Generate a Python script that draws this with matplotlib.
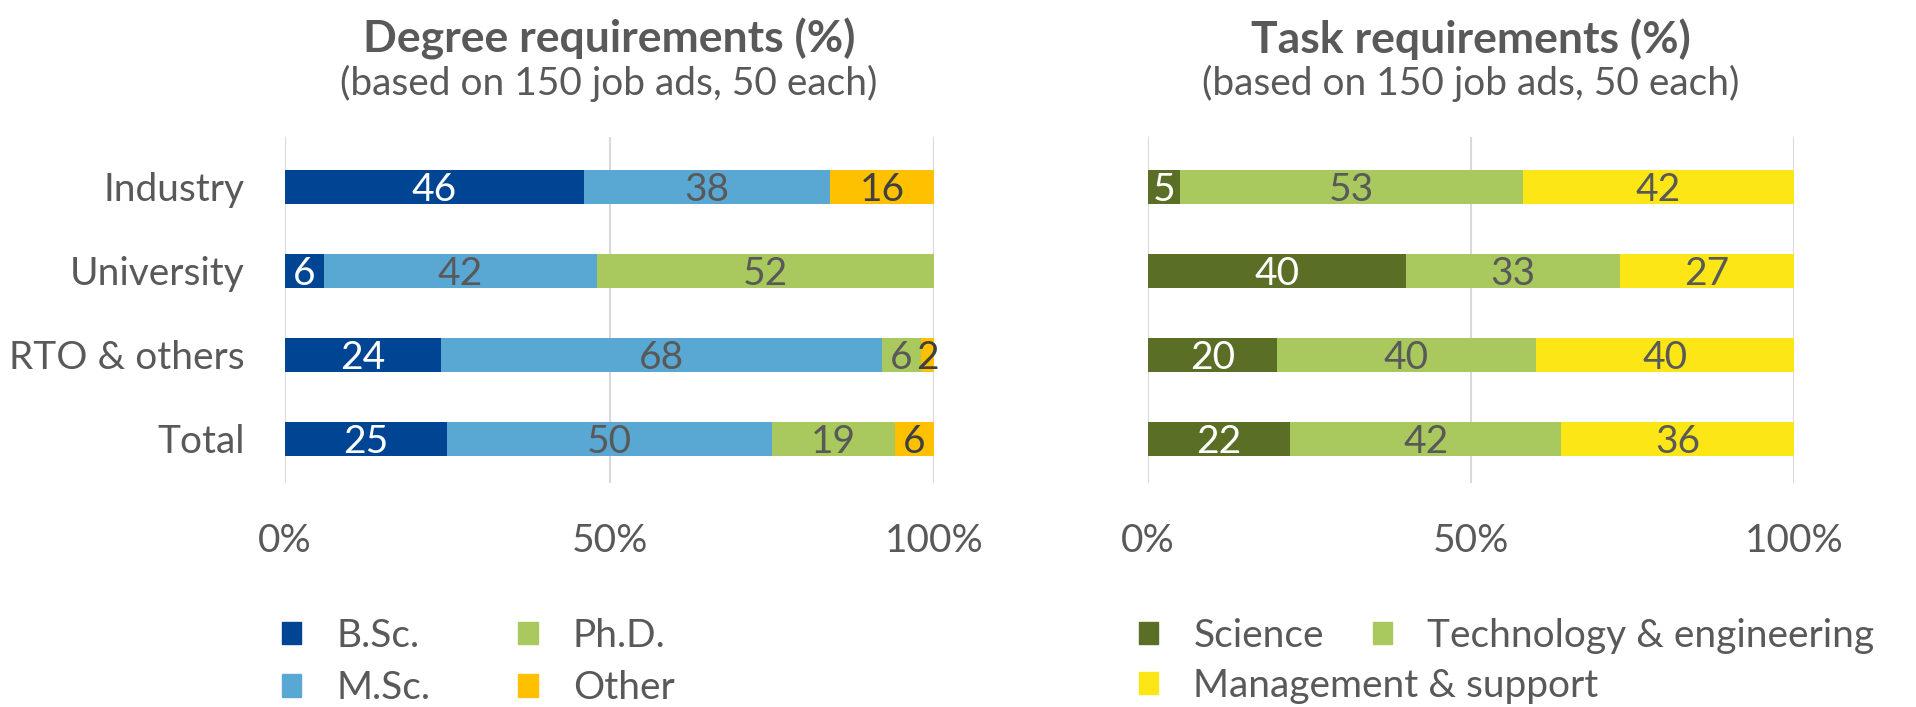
import matplotlib
matplotlib.use("Agg")
import matplotlib.pyplot as plt
from matplotlib.patches import Patch
import numpy as np

plt.rcParams['font.family'] = ['Lato', 'DejaVu Sans']

categories = ["Industry", "University", "RTO & others", "Total"]

degree_names = ["B.Sc.", "M.Sc.", "Ph.D.", "Other"]
bsc = [46, 6, 24, 25]
msc = [38, 42, 68, 50]
phd = [0, 52, 6, 19]
other = [16, 0, 2, 6]
degree_colors = ["#004494", "#59A7D3", "#A9C95E", "#FFC000"]
degree_textc = ["white", "#595959", "#595959", "#404040"]

task_names = ["Science", "Technology & engineering", "Management & support"]
science = [5, 40, 20, 22]
tech = [53, 33, 40, 42]
mgmt = [42, 27, 40, 36]
task_colors = ["#5A6E25", "#A9C95E", "#FCE616"]
task_textc = ["white", "#595959", "#595959"]

xticks = [0, 50, 100]
xticklabels = ["0%", "50%", "100%"]

GRAY = "#595959"
FS = 28

W, H = 1916, 707
fig = plt.figure(figsize=(W / 100, H / 100), dpi=100)

def make_axes(left_px, width_px):
    top, bottom = 137, 483
    return fig.add_axes([left_px / W, 1 - bottom / H, width_px / W, (bottom - top) / H])

def draw(ax, series, colors, textc, show_y):
    y = np.arange(len(categories))
    left = np.zeros(len(categories))
    for vals, c, tc in zip(series, colors, textc):
        vals = np.array(vals, dtype=float)
        bars = ax.barh(y, vals, left=left, height=0.405, color=c, edgecolor='none', zorder=3)
        for b, v in zip(bars, vals):
            if v > 0:
                ax.text(b.get_x() + b.get_width() / 2, b.get_y() + b.get_height() / 2,
                        f"{int(v)}", ha='center', va='center_baseline', color=tc,
                        fontsize=FS, zorder=4)
        left += vals
    ax.set_xlim(0, 100)
    ax.set_ylim(3.524, -0.595)
    ax.set_xticks(xticks)
    ax.set_xticklabels(xticklabels, fontsize=FS, color=GRAY)
    ax.tick_params(axis='x', length=0, pad=29)
    ax.set_yticks(y)
    if show_y:
        ax.set_yticklabels(categories, fontsize=FS, color=GRAY)
    else:
        ax.set_yticklabels([])
    ax.tick_params(axis='y', length=0, pad=29)
    for s in ax.spines.values():
        s.set_visible(False)
    ax.grid(axis='x', color="#D9D9D9", linewidth=1.5, zorder=0)
    ax.set_axisbelow(True)

ax1 = make_axes(285, 649)
draw(ax1, [bsc, msc, phd, other], degree_colors, degree_textc, True)
ax2 = make_axes(1148, 646)
draw(ax2, [science, tech, mgmt], task_colors, task_textc, False)

TFS = 32
fig.text(609 / W, 1 - 39 / H, "Degree requirements (%)", ha='center', va='center',
         fontsize=TFS, fontweight='bold', color=GRAY)
fig.text(609 / W, 1 - 83 / H, "(based on 150 job ads, 50 each)", ha='center', va='center',
         fontsize=FS, color=GRAY)
fig.text(1471 / W, 1 - 39 / H, "Task requirements (%)", ha='center', va='center',
         fontsize=TFS, fontweight='bold', color=GRAY)
fig.text(1471 / W, 1 - 83 / H, "(based on 150 job ads, 50 each)", ha='center', va='center',
         fontsize=FS, color=GRAY)

leg_kw = dict(frameon=False, fontsize=FS, labelcolor=GRAY, handlelength=0.5, handleheight=0.5,
              handletextpad=0.9, labelspacing=0.42, borderpad=0, borderaxespad=0)

h1 = [Patch(color=c, label=n) for c, n in zip(degree_colors, degree_names)]
fig.legend(handles=h1, loc='upper left', bbox_to_anchor=(282 / W, 1 - 618 / H), ncol=2,
           columnspacing=2.26, **leg_kw)

# Right legend: Excel-style flow layout (row 1: Science, Technology; row 2: Management)
row1 = [Patch(color=task_colors[0], label=task_names[0]),
        Patch(color=task_colors[1], label=task_names[1])]
row2 = [Patch(color=task_colors[2], label=task_names[2])]
fig.legend(handles=row1, loc='upper left', bbox_to_anchor=(1139 / W, 1 - 618 / H), ncol=2,
           columnspacing=1.26, **leg_kw)
fig.legend(handles=row2, loc='upper left', bbox_to_anchor=(1139 / W, 1 - 668 / H), ncol=1,
           **leg_kw)

fig.savefig("out.png", dpi=100)
